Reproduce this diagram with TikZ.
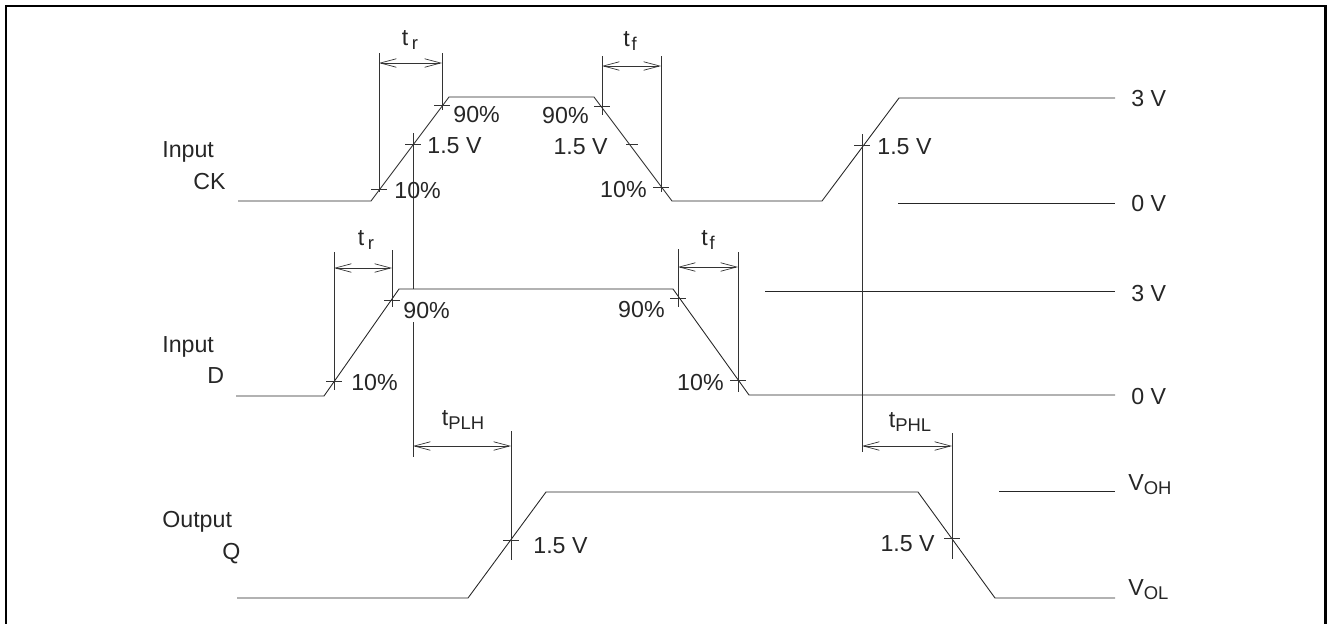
\documentclass[tikz,border=0pt]{standalone}
\usepackage{fontspec}
\setmainfont{Liberation Sans}
\usetikzlibrary{positioning, arrows.meta}
\newcommand{\lowtxt}[1]{\raisebox{-2.4pt}{\fontsize{10.5}{12}\selectfont #1}}

\begin{document}
\begin{tikzpicture}[
x=0.02cm, y=-0.02cm,
wave/.style={line width=0.5pt, draw=black!85},
guide/.style={line width=0.5pt, draw=black!80},
tickmark/.style={line width=0.5pt, draw=black!80},
dimarrow/.style={{Straight Barb[length=3.2mm,width=1.7mm]}-{Straight Barb[length=3.2mm,width=1.7mm]}, line width=0.4pt, draw=black!80},
lbl/.style={inner sep=0pt, font=\fontsize{13.2}{15}\selectfont, text=black!85},
frame/.style={line width=1.7pt, draw=black}
]
\useasboundingbox (0,0) rectangle (1329,623);
\draw[frame] (6,650) -- (6,6) -- (1325,6) -- (1325,650);

% waveform corners
\coordinate (ck_a) at (238,201);  \coordinate (ck_b) at (371,201);
\coordinate (ck_c) at (449,97);   \coordinate (ck_d) at (594,97);
\coordinate (ck_e) at (672,201);  \coordinate (ck_f) at (822,201);
\coordinate (ck_g) at (899,98);   \coordinate (ck_h) at (1115,98);
\coordinate (d_a) at (236,396);   \coordinate (d_b) at (324,396);
\coordinate (d_c) at (399,289);   \coordinate (d_d) at (673,289);
\coordinate (d_e) at (749,395);   \coordinate (d_f) at (1115,395);
\coordinate (q_a) at (237,598);   \coordinate (q_b) at (468,598);
\coordinate (q_c) at (546,492);   \coordinate (q_d) at (918,492);
\coordinate (q_e) at (995,598);   \coordinate (q_f) at (1115,598);

\draw[wave] (ck_a) -- (ck_b) -- (ck_c) -- (ck_d) -- (ck_e) -- (ck_f) -- (ck_g) -- (ck_h);
\draw[wave] (d_a) -- (d_b) -- (d_c) -- (d_d) -- (d_e) -- (d_f);
\draw[wave] (q_a) -- (q_b) -- (q_c) -- (q_d) -- (q_e) -- (q_f);

% level lines
\coordinate (ck_lo_a) at (898,203); \coordinate (ck_lo_b) at (1115,203);
\coordinate (d_hi_a) at (765,291);  \coordinate (d_hi_b) at (1115,291);
\coordinate (q_hi_a) at (999,491);  \coordinate (q_hi_b) at (1115,491);
\draw[wave] (ck_lo_a) -- (ck_lo_b);
\draw[wave] (d_hi_a) -- (d_hi_b);
\draw[wave] (q_hi_a) -- (q_hi_b);

% measuring points
\coordinate (ck_p10) at (379,189);  \coordinate (ck_p50) at (413,144);
\coordinate (ck_p90) at (442,105);  \coordinate (ckf_p90) at (602,106);
\coordinate (ckf_p50) at (632,144); \coordinate (ckf_p10) at (661,187);
\coordinate (ck2_p50) at (862,145);
\coordinate (d_p10) at (334,381);   \coordinate (d_p90) at (392,300);
\coordinate (df_p90) at (678,298);  \coordinate (df_p10) at (738,380);
\coordinate (q_p50) at (511,540);   \coordinate (qf_p50) at (952,538);

\foreach \p in {ck_p10, ck_p50, ck_p90, ckf_p90, ckf_p10, ck2_p50, d_p10, d_p90, df_p90, df_p10, q_p50, qf_p50}
  \draw[tickmark] ([xshift=-8*0.02cm]\p) -- ([xshift=8*0.02cm]\p);
\draw[tickmark] ([xshift=-6*0.02cm]ckf_p50) -- ([xshift=6*0.02cm]ckf_p50);

% extension lines
\draw[guide] (379,53) -- (379,192);
\draw[guide] (442,53) -- (442,110);
\draw[guide] (602,56) -- (602,115);
\draw[guide] (661,56) -- (661,192);
\draw[guide] (334,252) -- (334,390);
\draw[guide] (392,250) -- (392,307);
\draw[guide] (678,249) -- (678,307);
\draw[guide] (738,252) -- (738,392);
\draw[guide] (413,133) -- (413,289);
\draw[guide] (413,322) -- (413,457);
\draw[guide] (862,134) -- (862,452);
\draw[guide] (511,431) -- (511,560);
\draw[guide] (952,433) -- (952,559);

% time spans
\coordinate (ck_tr_l) at (379,63);  \coordinate (ck_tr_r) at (442,63);
\coordinate (ck_tf_l) at (602,66);  \coordinate (ck_tf_r) at (661,66);
\coordinate (d_tr_l) at (334,268);  \coordinate (d_tr_r) at (392,268);
\coordinate (d_tf_l) at (678,267);  \coordinate (d_tf_r) at (738,267);
\coordinate (q_plh_l) at (413,446); \coordinate (q_plh_r) at (511,446);
\coordinate (q_phl_l) at (862,446); \coordinate (q_phl_r) at (952,446);
\draw[dimarrow] (ck_tr_l) -- (ck_tr_r);
\draw[dimarrow] (ck_tf_l) -- (ck_tf_r);
\draw[dimarrow] (d_tr_l) -- (d_tr_r);
\draw[dimarrow] (d_tf_l) -- (d_tf_r);
\draw[dimarrow] (q_plh_l) -- (q_plh_r);
\draw[dimarrow] (q_phl_l) -- (q_phl_r);

% signal names
\node[lbl, anchor=base west] (ck_in) at (162,157) {Input};
\node[lbl, anchor=base west] (ck_name) at (193,189) {CK};
\node[lbl, anchor=base west] (d_in) at (162,352) {Input};
\node[lbl, anchor=base west] (d_name) at (207,383) {D};
\node[lbl, anchor=base west] (q_out) at (162,527) {Output};
\node[lbl, anchor=base west] (q_name) at (222,559) {Q};

% CK labels
\node[lbl, anchor=base] (ck_tr) at (410,45) {t\kern2pt\lowtxt{r}};
\node[lbl, anchor=base] (ck_tf) at (630,46) {t\kern1pt\lowtxt{f}};
\node[lbl, anchor=base west] (ck_l90) at (453,122) {90\%};
\node[lbl, anchor=base west] (ck_l50) at (427,153) {1.5 V};
\node[lbl, anchor=base west] (ck_l10) at (394,198) {10\%};
\node[lbl, anchor=base east] (ckf_l90) at (589,123) {90\%};
\node[lbl, anchor=base east] (ckf_l50) at (608,154) {1.5 V};
\node[lbl, anchor=base east] (ckf_l10) at (647,197) {10\%};
\node[lbl, anchor=base west] (ck2_l50) at (877,154) {1.5 V};
\node[lbl, anchor=base west] (ck_v3) at (1131,106) {3 V};
\node[lbl, anchor=base west] (ck_v0) at (1131,211) {0 V};

% D labels
\node[lbl, anchor=base] (d_tr) at (366,245) {t\kern2pt\lowtxt{r}};
\node[lbl, anchor=base] (d_tf) at (708,245) {t\kern1pt\lowtxt{f}};
\node[lbl, anchor=base west] (d_l90) at (403,318) {90\%};
\node[lbl, anchor=base west] (d_l10) at (351,390) {10\%};
\node[lbl, anchor=base east] (df_l90) at (665,317) {90\%};
\node[lbl, anchor=base east] (df_l10) at (724,390) {10\%};
\node[lbl, anchor=base west] (d_v3) at (1131,301) {3 V};
\node[lbl, anchor=base west] (d_v0) at (1131,404) {0 V};

% Q labels
\node[lbl, anchor=base] (q_plh) at (463,425) {t\lowtxt{PLH}};
\node[lbl, anchor=base] (q_phl) at (910,427) {t\lowtxt{PHL}};
\node[lbl, anchor=base west] (q_l50) at (533,553) {1.5 V};
\node[lbl, anchor=base east] (qf_l50) at (935,551) {1.5 V};
\node[lbl, anchor=base west] (q_voh) at (1128,490) {V\lowtxt{OH}};
\node[lbl, anchor=base west] (q_vol) at (1128,595) {V\lowtxt{OL}};

\end{tikzpicture}
\end{document}
